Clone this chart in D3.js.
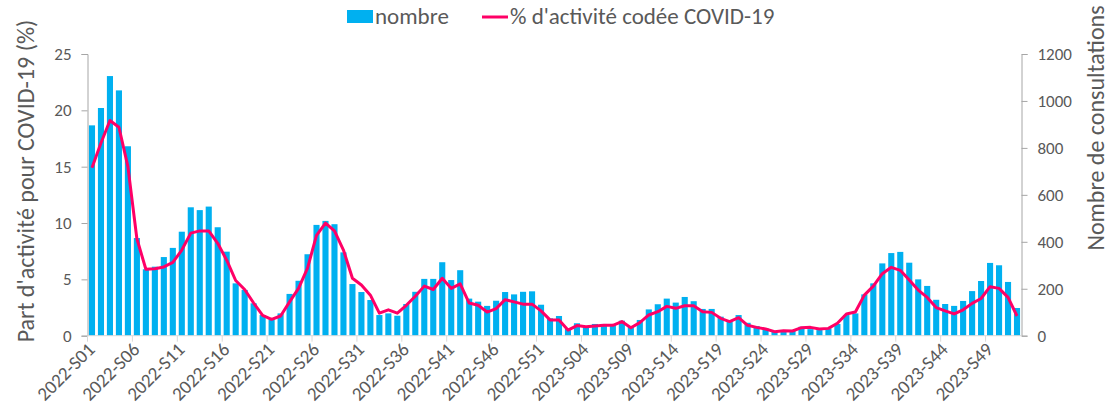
<!DOCTYPE html>
<html>
<head>
<meta charset="utf-8">
<script src="https://cdn.jsdelivr.net/npm/d3@7"></script>
<style>
  body { margin: 0; background: #fff; }
  svg { font-family: Carlito, Calibri, Lato, sans-serif; }
</style>
</head>
<body>
<svg id="chart" width="1112" height="417"></svg>
<script>
// weeks 2022-S01 .. 2023-S52
var weeks = [];
[2022, 2023].forEach(function(y) {
  for (var w = 1; w <= 52; w++) weeks.push(y + "-S" + (w < 10 ? "0" + w : w));
});

// nombre de consultations (right axis)
var nombre = [
  896, 970, 1106, 1045, 807, 416, 283, 294, 335, 374,
  443, 547, 535, 550, 462, 358, 223, 195, 138, 88,
  70, 95, 178, 234, 347, 472, 489, 475, 355, 220,
  186, 152, 88, 95, 85, 135, 187, 242, 242, 313,
  237, 279, 158, 145, 127, 149, 186, 176, 187, 189,
  132, 74, 84, 31, 53, 38, 50, 50, 50, 64,
  38, 67, 112, 134, 158, 141, 165, 147, 114, 114,
  81, 60, 88, 55, 41, 31, 17, 21, 21, 38,
  28, 24, 31, 50, 88, 95, 176, 223, 308, 352,
  357, 311, 240, 212, 153, 135, 127, 148, 190, 233,
  310, 300, 229, 118
];

// % d'activité codée COVID-19 (left axis)
var pct = [
  14.9, 17.1, 19.1, 18.5, 15.0, 8.6, 5.9, 5.95, 6.1, 6.5,
  7.6, 9.1, 9.3, 9.3, 8.2, 6.7, 4.9, 4.1, 2.9, 1.8,
  1.45, 1.75, 3.0, 4.2, 6.0, 8.9, 10.0, 9.3, 7.6, 5.1,
  4.5, 3.6, 2.0, 2.3, 2.0, 2.7, 3.5, 4.4, 4.1, 5.1,
  4.2, 4.6, 2.9, 2.7, 2.1, 2.4, 3.2, 3.0, 2.8, 2.8,
  2.2, 1.4, 1.4, 0.5, 0.9, 0.8, 0.86, 0.92, 0.92, 1.25,
  0.71, 1.16, 1.84, 2.13, 2.6, 2.43, 2.66, 2.66, 2.13, 2.07,
  1.54, 1.25, 1.6, 0.92, 0.74, 0.6, 0.36, 0.44, 0.42, 0.71,
  0.74, 0.6, 0.65, 1.1, 1.93, 2.1, 3.6, 4.4, 5.5, 6.07,
  5.8, 4.94, 4.05, 3.4, 2.5, 2.2, 1.93, 2.3, 2.87, 3.3,
  4.35, 4.2, 3.4, 1.75
];

var leftTicks = [0, 5, 10, 15, 20, 25];
var rightTicks = [0, 200, 400, 600, 800, 1000, 1200];

var svg = d3.select("#chart"),
    plotLeft = 87.5, plotRight = 1021.5, plotTop = 54, plotBottom = 335.7;

var x = d3.scaleBand().domain(weeks).range([plotLeft, plotRight]).paddingInner(0.32).paddingOuter(0.16);
var xb = d3.scaleBand().domain(weeks).range([plotLeft, plotRight]);  // for tick positions
var yL = d3.scaleLinear().domain([0, 25]).range([plotBottom, plotTop]);
var yR = d3.scaleLinear().domain([0, 1200]).range([plotBottom, plotTop]);

var textCol = "#595959", axisCol = "#a6a6a6";

// bars
svg.append("g").selectAll("rect")
  .data(nombre)
  .enter()
  .append("rect")
  .attr("x", function(d, i) { return x(weeks[i]); })
  .attr("width", x.bandwidth())
  .attr("y", function(d) { return yR(d); })
  .attr("height", function(d) { return plotBottom - yR(d); })
  .attr("fill", "#00b0f0");

// line
var line = d3.line()
  .x(function(d, i) { return xb(weeks[i]) + xb.bandwidth() / 2; })
  .y(function(d) { return yL(d); });

svg.append("path")
  .datum(pct)
  .attr("d", line)
  .attr("fill", "none")
  .attr("stroke", "#ff0066")
  .attr("stroke-width", 3)
  .attr("stroke-linejoin", "round");

// left axis
var gl = svg.append("g").attr("transform", "translate(" + plotLeft + ",0)")
  .call(d3.axisLeft(yL).tickValues(leftTicks).tickSize(6).tickPadding(10));
gl.select(".domain").attr("stroke", axisCol);
gl.selectAll(".tick line").attr("stroke", axisCol);
gl.selectAll("text").attr("fill", textCol).style("font-size", "17px")
  .style("font-family", "Carlito, Calibri, Lato, sans-serif");

// right axis
var gr = svg.append("g").attr("transform", "translate(" + plotRight + ",0)")
  .call(d3.axisRight(yR).tickValues(rightTicks).tickFormat(d3.format("d")).tickSize(6).tickPadding(10));
gr.select(".domain").attr("stroke", axisCol);
gr.selectAll(".tick line").attr("stroke", axisCol);
gr.selectAll("text").attr("fill", textCol).style("font-size", "17px")
  .style("font-family", "Carlito, Calibri, Lato, sans-serif");

// x axis line and ticks every 5 weeks
var labelled = weeks.filter(function(d, i) { return i % 5 === 0; });
svg.append("line")
  .attr("x1", plotLeft).attr("x2", plotRight)
  .attr("y1", plotBottom).attr("y2", plotBottom)
  .attr("stroke", "#d9d9d9");

svg.append("g").selectAll("line")
  .data(labelled)
  .enter()
  .append("line")
  .attr("x1", function(d) { return xb(d); })
  .attr("x2", function(d) { return xb(d); })
  .attr("y1", plotBottom).attr("y2", plotBottom + 6)
  .attr("stroke", "#d9d9d9");

svg.append("g").selectAll("text")
  .data(labelled)
  .enter()
  .append("text")
  .attr("transform", function(d) {
    return "translate(" + (xb(d) + xb.bandwidth() / 2 + 4) + "," + (plotBottom + 15) + ") rotate(-45)";
  })
  .attr("text-anchor", "end")
  .attr("fill", textCol)
  .style("font-size", "19px")
  .text(function(d) { return d; });

// axis titles
svg.append("text")
  .attr("transform", "translate(34,181) rotate(-90)")
  .attr("text-anchor", "middle")
  .attr("fill", textCol)
  .style("font-size", "24px")
  .text("Part d'activité pour COVID-19 (%)");

svg.append("text")
  .attr("transform", "translate(1104,128) rotate(-90)")
  .attr("text-anchor", "middle")
  .attr("fill", textCol)
  .style("font-size", "24px")
  .text("Nombre de consultations");

// legend
var lg = svg.append("g");
lg.append("rect").attr("x", 347).attr("y", 10).attr("width", 26).attr("height", 13).attr("fill", "#00b0f0");
lg.append("text").attr("x", 375).attr("y", 24).attr("fill", textCol).style("font-size", "23px").text("nombre");
lg.append("line").attr("x1", 482).attr("x2", 508).attr("y1", 17).attr("y2", 17)
  .attr("stroke", "#ff0066").attr("stroke-width", 3);
lg.append("text").attr("x", 510).attr("y", 24).attr("fill", textCol).style("font-size", "23px").text("% d'activité codée COVID-19");
</script>
</body>
</html>
